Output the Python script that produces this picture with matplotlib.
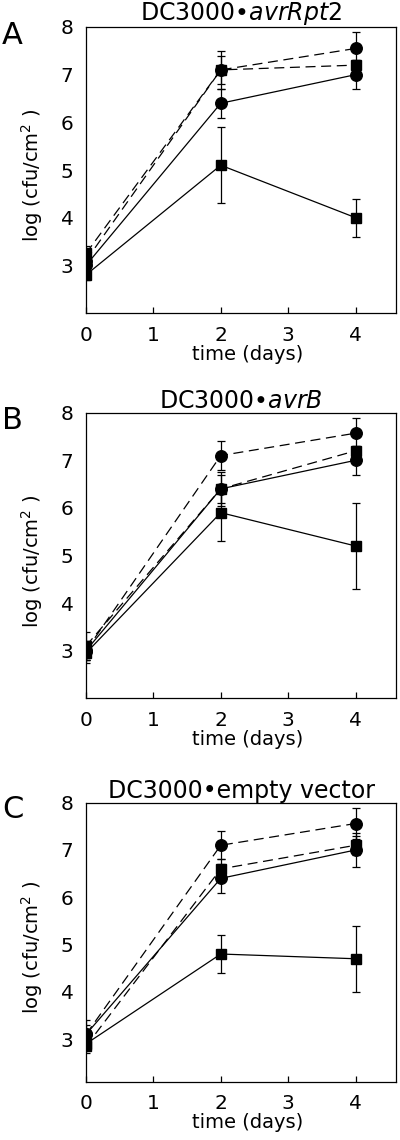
import matplotlib
matplotlib.use("Agg")
import matplotlib.pyplot as plt

plt.rcParams['font.family'] = ['DejaVu Sans']
plt.rcParams['mathtext.fontset'] = 'dejavusans'

days = [0, 2, 4]

titles = ["DC3000\u2022$\\mathit{avrRpt2}$", "DC3000\u2022$\\mathit{avrB}$", "DC3000\u2022empty vector"]
letters = ["A", "B", "C"]

# Panel A
A_solid_circle = [3.0, 6.4, 7.0]
A_solid_circle_err = [0.15, 0.3, 0.3]
A_dashed_circle = [3.1, 7.1, 7.55]
A_dashed_circle_err = [0.2, 0.3, 0.35]
A_solid_square = [2.8, 5.1, 4.0]
A_solid_square_err = [0.1, 0.8, 0.4]
A_dashed_square = [3.25, 7.1, 7.2]
A_dashed_square_err = [0.15, 0.4, 0.1]

# Panel B
B_solid_circle = [3.0, 6.4, 7.0]
B_solid_circle_err = [0.2, 0.3, 0.3]
B_dashed_circle = [3.0, 7.1, 7.57]
B_dashed_circle_err = [0.2, 0.3, 0.32]
B_solid_square = [2.95, 5.9, 5.2]
B_solid_square_err = [0.2, 0.6, 0.9]
B_dashed_square = [3.1, 6.4, 7.2]
B_dashed_square_err = [0.3, 0.35, 0.1]

# Panel C
C_solid_circle = [3.1, 6.4, 7.0]
C_solid_circle_err = [0.2, 0.3, 0.35]
C_dashed_circle = [3.1, 7.1, 7.56]
C_dashed_circle_err = [0.3, 0.3, 0.32]
C_solid_square = [2.9, 4.8, 4.7]
C_solid_square_err = [0.1, 0.4, 0.7]
C_dashed_square = [2.85, 6.6, 7.1]
C_dashed_square_err = [0.15, 0.2, 0.2]

panels = [
    [(A_solid_circle, A_solid_circle_err, 'o', '-'),
     (A_dashed_circle, A_dashed_circle_err, 'o', '--'),
     (A_solid_square, A_solid_square_err, 's', '-'),
     (A_dashed_square, A_dashed_square_err, 's', '--')],
    [(B_solid_circle, B_solid_circle_err, 'o', '-'),
     (B_dashed_circle, B_dashed_circle_err, 'o', '--'),
     (B_solid_square, B_solid_square_err, 's', '-'),
     (B_dashed_square, B_dashed_square_err, 's', '--')],
    [(C_solid_circle, C_solid_circle_err, 'o', '-'),
     (C_dashed_circle, C_dashed_circle_err, 'o', '--'),
     (C_solid_square, C_solid_square_err, 's', '-'),
     (C_dashed_square, C_dashed_square_err, 's', '--')],
]

yticks = [3, 4, 5, 6, 7, 8]
xticks = [0, 1, 2, 3, 4]

W, H = 400, 1140
fig = plt.figure(figsize=(W / 100, H / 100), dpi=100)

# axes boxes in pixels: (left, top, right, bottom)
boxes = [(86, 27, 396, 313), (86, 412.7, 396, 698.3), (86, 802.7, 396, 1081.7)]
ylims = [(2.0, 8.0), (2.0, 8.0), (2.1, 8.0)]
letter_y = [36, 421, 809]

for i, (box, series) in enumerate(zip(boxes, panels)):
    l, t, r, b = box
    ax = fig.add_axes([l / W, 1 - b / H, (r - l) / W, (b - t) / H])
    for vals, err, mk, ls in series:
        linestyle = (0, (8, 4.5)) if ls == '--' else '-'
        ax.errorbar(days, vals, yerr=err, fmt='none', ecolor='black',
                    elinewidth=0.9, capsize=2.6, capthick=0.9, zorder=2)
        ax.plot(days, vals, color='black', linestyle=linestyle, linewidth=0.9,
                marker=mk, markersize=8.3 if mk == 'o' else 7.5,
                markerfacecolor='black', markeredgecolor='black', zorder=3)
    ax.set_xlim(0, 4.6)
    ax.set_ylim(*ylims[i])
    ax.set_xticks(xticks)
    ax.set_yticks(yticks)
    ax.tick_params(axis='x', direction='in', length=4.5, width=0.9, pad=9, labelsize=14.5)
    ax.tick_params(axis='y', length=0, pad=9, labelsize=14.5)
    for sp in ax.spines.values():
        sp.set_linewidth(0.9)
    ax.set_title(titles[i], fontsize=17, pad=2)
    ax.text(0.52, -0.112, "time (days)", transform=ax.transAxes, ha='center',
            va='top', fontsize=14)
    ax.text(-0.175, 0.48, "log (cfu/cm$^2$ )", transform=ax.transAxes, ha='center',
            va='center', rotation=90, fontsize=14)
    fig.text(2 / W, 1 - letter_y[i] / H, letters[i], fontsize=22, ha='left', va='center')

fig.savefig("out.png", dpi=100)
